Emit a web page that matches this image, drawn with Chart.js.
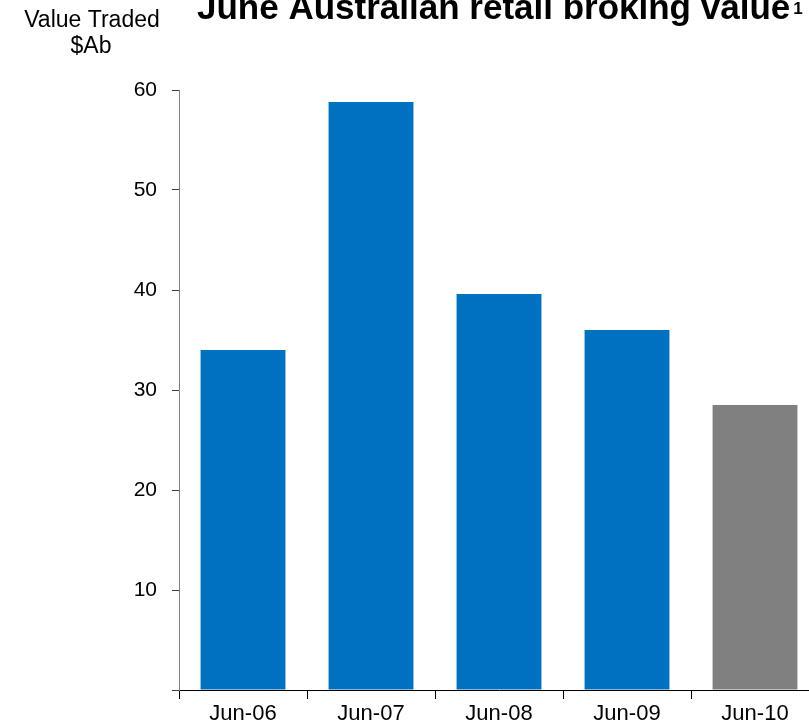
<!DOCTYPE html>
<html>
<head>
<meta charset="utf-8">
<script src="https://cdn.jsdelivr.net/npm/chart.js@4/dist/chart.umd.min.js"></script>
<style>
html,body{margin:0;padding:0;background:#fff;overflow:hidden;width:809px;height:728px;}
#wrap{position:absolute;left:0;top:0;width:830px;height:728px;}
</style>
</head>
<body>
<div id="wrap"><canvas id="c" width="830" height="728"></canvas></div>
<script>
const categories = ['Jun-06','Jun-07','Jun-08','Jun-09','Jun-10'];
const values = [34.0, 58.8, 39.6, 36.0, 28.5];
const barColors = ['#0070C0','#0070C0','#0070C0','#0070C0','#808080'];
const yTicks = [0,10,20,30,40,50,60];
const titleText = 'June Australian retail broking value';
const titleSup = '1';
const yTitleLines = ['Value Traded','$Ab'];

const FONT = '"Liberation Sans", Arial, Helvetica, sans-serif';

const textPlugin = {
  id: 'texts',
  afterDraw(chart) {
    const ctx = chart.ctx;
    ctx.save();
    ctx.fillStyle = '#000';
    ctx.textBaseline = 'alphabetic';
    ctx.textAlign = 'left';
    ctx.font = 'bold 35px ' + FONT;
    ctx.fillText(titleText, 197, 18.5);
    const w = ctx.measureText(titleText).width;
    ctx.font = 'bold 17px ' + FONT;
    ctx.fillText(titleSup, 197 + w + 3, 14);
    ctx.font = '23px ' + FONT;
    ctx.textAlign = 'center';
    ctx.fillText(yTitleLines[0], 92, 26.7);
    ctx.fillText(yTitleLines[1], 91, 53.3);
    ctx.restore();
  }
};

new Chart(document.getElementById('c'), {
  type: 'bar',
  data: {
    labels: categories,
    datasets: [{
      data: values,
      backgroundColor: barColors,
      borderWidth: 0,
      barPercentage: 0.663,
      categoryPercentage: 1.0
    }]
  },
  options: {
    responsive: false,
    animation: false,
    devicePixelRatio: 1,
    layout: { padding: { top: 90, right: 11, bottom: 0, left: 0 } },
    plugins: { legend: { display: false }, tooltip: { enabled: false }, title: { display: false } },
    scales: {
      x: {
        afterFit(scale) { scale.height = 38; },
        grid: { display: true, drawOnChartArea: false, drawTicks: true, tickLength: 9, color: '#000', offset: true },
        border: { display: true, color: '#000', width: 1 },
        ticks: { color: '#000', font: { family: FONT, size: 22 }, padding: 2, maxRotation: 0, autoSkip: false }
      },
      y: {
        min: 0, max: 60,
        afterFit(scale) { scale.width = 179; },
        afterBuildTicks(scale) { scale.ticks = yTicks.map(v => ({ value: v })); },
        grid: { display: true, drawOnChartArea: false, drawTicks: true, tickLength: 7, color: '#404040' },
        border: { display: true, color: '#808080', width: 1 },
        ticks: {
          color: '#000', font: { family: FONT, size: 21 }, padding: 15,
          callback: (v) => v === 0 ? '' : String(v)
        }
      }
    }
  },
  plugins: [textPlugin]
});
</script>
</body>
</html>
